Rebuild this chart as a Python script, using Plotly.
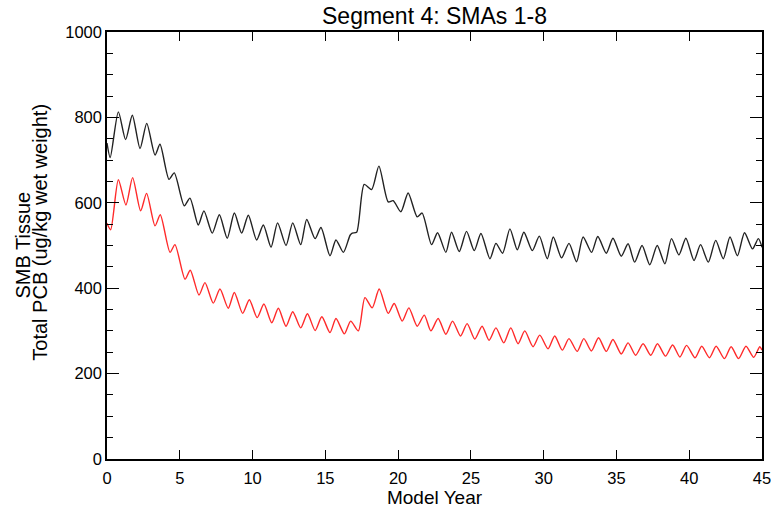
import plotly.graph_objects as go

# Black series (top): model year, value
black_t = [0.0, 0.22, 0.78, 1.28, 1.74, 2.27, 2.73, 3.3, 3.64, 4.26, 4.62, 5.31, 5.7, 6.27, 6.66,
           7.23, 7.72, 8.26, 8.75, 9.25, 9.71, 10.28, 10.74, 11.27, 11.72, 12.3, 12.76, 13.31,
           13.72, 14.3, 14.7, 15.32, 15.73, 16.24, 16.7, 16.85, 17.15, 17.67, 18.18, 18.68,
           19.32, 19.66, 20.19, 20.69, 21.31, 21.65, 22.3, 22.71, 23.28, 23.67, 24.2, 24.7,
           25.23, 25.69, 26.31, 26.72, 27.18, 27.68, 28.19, 28.64, 29.22, 29.7, 30.25, 30.66,
           31.23, 31.74, 32.26, 32.71, 33.29, 33.72, 34.3, 34.76, 35.33, 35.8, 36.25, 36.76,
           37.29, 37.8, 38.33, 38.78, 39.29, 39.77, 40.33, 40.78, 41.31, 41.82, 42.34, 42.8,
           43.31, 43.8, 44.35, 44.75, 45.0]
black_v = [740, 706, 813, 748, 805, 727, 786, 712, 737, 655, 670, 593, 611, 548, 581,
           529, 572, 517, 576, 529, 571, 513, 548, 496, 553, 500, 553, 502,
           561, 516, 542, 476, 513, 484, 524, 529, 531, 643, 631, 686,
           602, 605, 579, 623, 567, 576, 502, 530, 484, 531, 486, 533,
           488, 528, 469, 505, 482, 539, 490, 531, 488, 522, 469, 520,
           471, 505, 462, 520, 484, 521, 482, 517, 475, 504, 461, 500,
           455, 500, 457, 516, 478, 517, 465, 502, 461, 512, 469, 520,
           476, 530, 492, 516, 496]

# Red series (bottom)
red_t = [0.0, 0.25, 0.78, 1.3, 1.76, 2.31, 2.72, 3.3, 3.66, 4.33, 4.67, 5.36, 5.72, 6.32, 6.73,
         7.3, 7.76, 8.33, 8.75, 9.32, 9.78, 10.32, 10.78, 11.32, 11.77, 12.3, 12.76, 13.31,
         13.77, 14.3, 14.76, 15.32, 15.73, 16.31, 16.74, 17.27, 17.72, 18.22, 18.7, 19.32,
         19.73, 20.28, 20.74, 21.31, 21.8, 22.25, 22.75, 23.28, 23.74, 24.29, 24.74, 25.27,
         25.77, 26.25, 26.72, 27.26, 27.74, 28.24, 28.7, 29.27, 29.73, 30.3, 30.76, 31.28,
         31.74, 32.3, 32.76, 33.28, 33.77, 34.3, 34.76, 35.33, 35.8, 36.32, 36.83, 37.36,
         37.82, 38.37, 38.86, 39.36, 39.82, 40.4, 40.86, 41.39, 41.85, 42.42, 42.88, 43.39,
         43.9, 44.43, 44.85, 45.0]
red_v = [552, 537, 654, 595, 659, 581, 622, 546, 572, 484, 502, 421, 442, 384, 413,
         365, 398, 353, 390, 341, 373, 331, 363, 319, 353, 311, 345, 307,
         340, 301, 333, 296, 329, 293, 323, 300, 378, 354, 398, 341,
         364, 323, 354, 311, 337, 300, 329, 292, 323, 288, 317, 281,
         311, 278, 307, 272, 307, 270, 300, 263, 290, 258, 288, 255,
         282, 252, 282, 253, 284, 252, 280, 246, 272, 243, 270, 243,
         270, 241, 267, 239, 266, 237, 264, 237, 264, 235, 263, 235,
         264, 238, 263, 255]

x_ticks = [0, 5, 10, 15, 20, 25, 30, 35, 40, 45]
y_ticks = [0, 200, 400, 600, 800, 1000]

title_text = "Segment 4: SMAs 1-8"
x_title = "Model Year"
y_title_1 = "SMB Tissue"
y_title_2 = "Total PCB (ug/kg wet weight)"

fig = go.Figure()
fig.add_trace(go.Scatter(x=black_t, y=black_v, mode="lines",
                         line=dict(color="#222222", width=1.4, shape="spline", smoothing=0.7),
                         showlegend=False, hoverinfo="skip"))
fig.add_trace(go.Scatter(x=red_t, y=red_v, mode="lines",
                         line=dict(color="#ff2a2a", width=1.4, shape="spline", smoothing=0.7),
                         showlegend=False, hoverinfo="skip"))

font_family = "Liberation Sans, Arial, sans-serif"
fig.update_layout(
    width=771, height=509,
    margin=dict(l=107, r=9, t=32, b=50, autoexpand=False),
    paper_bgcolor="white", plot_bgcolor="white",
    font=dict(family=font_family, color="black", size=16),
    title=dict(text=title_text, x=0.5, xref="paper", xanchor="center",
               y=1 - 16 / 509, yref="container", yanchor="middle",
               font=dict(size=23, family=font_family, color="black")),
    xaxis=dict(range=[0, 45], tickvals=x_ticks, ticktext=[str(v) for v in x_ticks],
               ticks="inside", ticklen=9, tickwidth=1.3, tickcolor="black",
               showline=True, linecolor="black", linewidth=1.5, mirror="allticks",
               showgrid=False, zeroline=False, tickfont=dict(size=16.5),
               ticklabelstandoff=3, ticklabeloverflow="allow", automargin=False,
               title=dict(text=x_title, font=dict(size=19), standoff=0)),
    yaxis=dict(range=[0, 1000], tickvals=y_ticks, ticktext=[str(v) for v in y_ticks],
               ticks="inside", ticklen=12, tickwidth=1.3, tickcolor="black",
               minor=dict(dtick=50, ticks="inside", ticklen=6, tickwidth=1.2, tickcolor="black"),
               showline=True, linecolor="black", linewidth=1.5, mirror="allticks",
               showgrid=False, zeroline=False, tickfont=dict(size=16.5),
               ticklabeloverflow="allow", automargin=False),
    annotations=[
        dict(text=y_title_1, textangle=-90, xref="paper", yref="paper",
             x=(22 - 107) / 655, y=0.5, xanchor="center", yanchor="middle",
             showarrow=False, font=dict(size=20, family=font_family, color="black")),
        dict(text=y_title_2, textangle=-90, xref="paper", yref="paper",
             x=(40 - 107) / 655, y=0.53, xanchor="center", yanchor="middle",
             showarrow=False, font=dict(size=20, family=font_family, color="black")),
    ],
)

fig.write_html("out.html", config={"displayModeBar": False},
               post_script="document.body.style.margin='0';document.body.style.overflow='hidden';")
